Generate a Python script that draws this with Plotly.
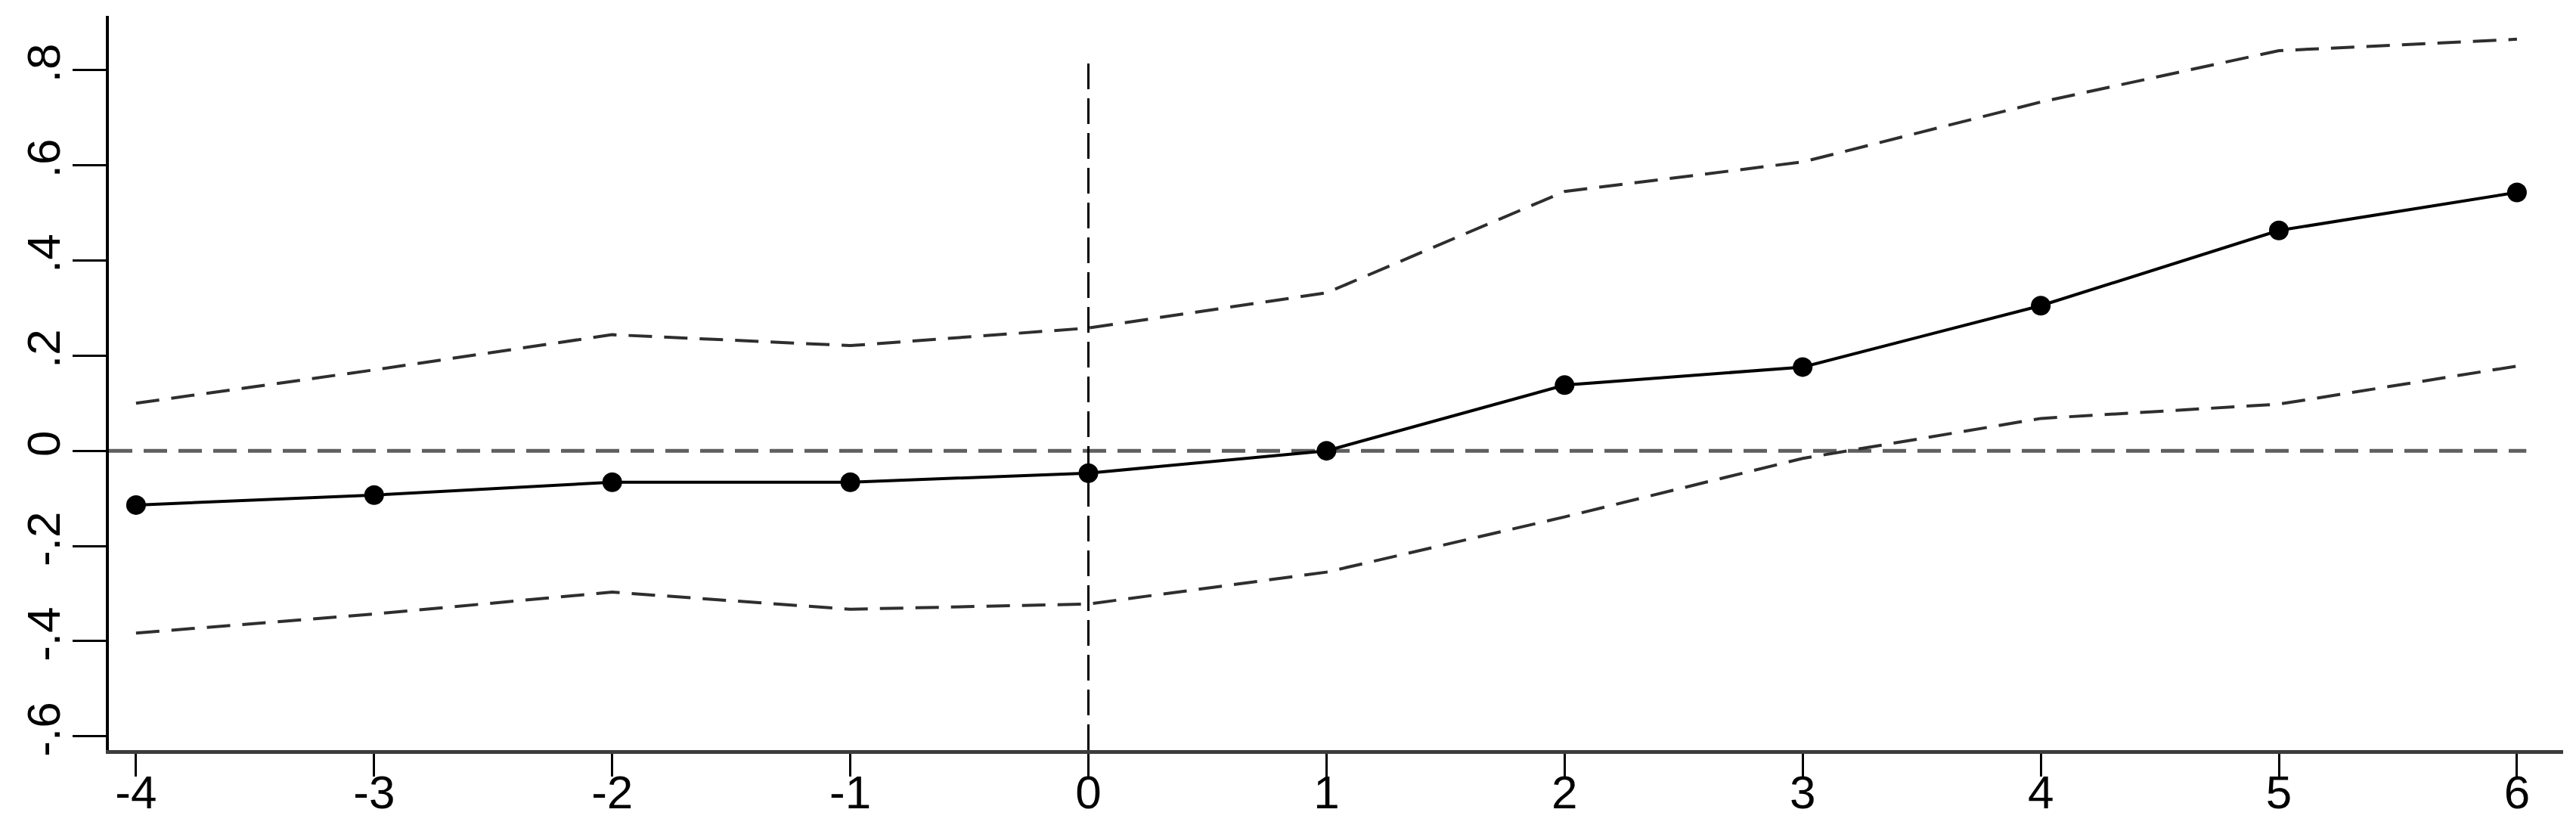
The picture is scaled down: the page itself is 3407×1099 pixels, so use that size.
import plotly.graph_objects as go

# event time (periods relative to treatment)
periods = [-4, -3, -2, -1, 0, 1, 2, 3, 4, 5, 6]

# point estimates and 95% confidence bounds
coef = [-0.114, -0.093, -0.066, -0.066, -0.047, 0.0, 0.138, 0.176, 0.305, 0.463, 0.543]
ci_upper = [0.100, 0.170, 0.244, 0.221, 0.258, 0.332, 0.545, 0.607, 0.733, 0.841, 0.865]
ci_lower = [-0.383, -0.343, -0.297, -0.333, -0.322, -0.255, -0.139, -0.016, 0.068, 0.098, 0.178]

# reference lines
event_time = 0
zero_level = 0

# tick labels (Stata style)
x_tick_vals = [-4, -3, -2, -1, 0, 1, 2, 3, 4, 5, 6]
x_tick_text = ["-4", "-3", "-2", "-1", "0", "1", "2", "3", "4", "5", "6"]
y_tick_vals = [0.8, 0.6, 0.4, 0.2, 0, -0.2, -0.4, -0.6]
y_tick_text = [".8", ".6", ".4", ".2", "0", "-.2", "-.4", "-.6"]

FONT = "Liberation Sans, Arial, sans-serif"

fig = go.Figure()

# confidence bounds, dashed
fig.add_trace(go.Scatter(x=periods, y=ci_upper, mode="lines",
                         line=dict(color="#2e2e2e", width=4, dash="31px,16px"),
                         showlegend=False, hoverinfo="skip"))
fig.add_trace(go.Scatter(x=periods, y=ci_lower, mode="lines",
                         line=dict(color="#2e2e2e", width=4, dash="31px,16px"),
                         showlegend=False, hoverinfo="skip"))

# point estimates
fig.add_trace(go.Scatter(x=periods, y=coef, mode="lines+markers",
                         line=dict(color="black", width=4),
                         marker=dict(color="black", size=26, symbol="circle"),
                         showlegend=False))

# horizontal line at zero and vertical line at the event
fig.add_shape(type="line", xref="paper", yref="y",
              x0=0, x1=0.985, y0=zero_level, y1=zero_level,
              line=dict(color="#5f5f5f", width=5, dash="31px,15px"), layer="below")
fig.add_shape(type="line", xref="x", yref="paper",
              x0=event_time, x1=event_time, y0=0, y1=0.943,
              line=dict(color="black", width=3, dash="34px,12px"), layer="below")

fig.update_layout(
    width=3407, height=1099,
    margin=dict(l=144, r=17, t=21, b=107, autoexpand=False),
    paper_bgcolor="white", plot_bgcolor="white",
    font=dict(family=FONT, size=62, color="black"),
)

fig.update_xaxes(
    range=[-4.114, 6.194], automargin=False,
    tickvals=x_tick_vals, ticktext=x_tick_text,
    showgrid=False, zeroline=False,
    showline=True, linecolor="#3c3c3c", linewidth=5,
    ticks="outside", ticklen=30, tickwidth=3, tickcolor="black",
    ticklabelstandoff=-32,
)
fig.update_yaxes(
    range=[-0.629, 0.914], automargin=False,
    tickvals=y_tick_vals, ticktext=y_tick_text, tickangle=-90,
    showgrid=False, zeroline=False,
    showline=True, linecolor="black", linewidth=4,
    ticks="outside", ticklen=44, tickwidth=3, tickcolor="black",
    ticklabelstandoff=-8,
)

# drop the default page margin so the figure sits flush in the window
fig.write_html("out.html", config={"displayModeBar": False},
               post_script="document.body.style.margin='0';")
